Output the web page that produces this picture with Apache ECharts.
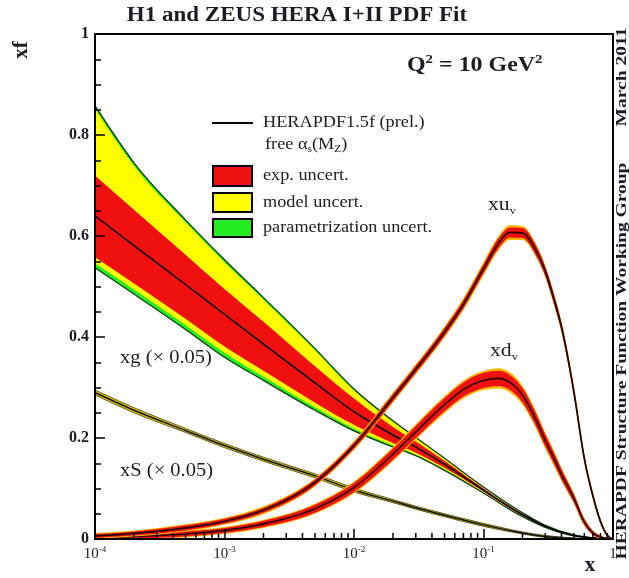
<!DOCTYPE html>
<html>
<head>
<meta charset="utf-8">
<title>H1 and ZEUS HERA I+II PDF Fit</title>
<script src="https://cdn.jsdelivr.net/npm/echarts@6/dist/echarts.min.js"></script>
<style>
  html, body { margin: 0; padding: 0; background: #fff; }
  #chart { width: 629px; height: 578px; }
</style>
</head>
<body>
<div id="chart"></div>
<script>
// ---- PDF values at Q^2 = 10 GeV^2 ----
// x grid for gluon and sea
const gluonX = [1e-4, 2e-4, 5e-4, 1e-3, 2e-3, 5e-3, 0.01, 0.02, 0.03, 0.05, 0.1, 0.2, 0.3, 0.5, 0.7, 1.0];
// xg (x 0.05): central value and uncertainty envelopes
const gluonCentral = [0.640, 0.581, 0.504, 0.445, 0.386, 0.309, 0.252, 0.206, 0.182, 0.148, 0.097, 0.048, 0.025, 0.007, 0.002, 0];
const gluonExpLo   = [0.558, 0.506, 0.436, 0.381, 0.333, 0.270, 0.226, 0.190, 0.171, 0.141, 0.094, 0.046, 0.024, 0.0065, 0.002, 0];
const gluonExpHi   = [0.720, 0.652, 0.563, 0.495, 0.430, 0.342, 0.278, 0.222, 0.193, 0.155, 0.100, 0.050, 0.026, 0.0075, 0.002, 0];
const gluonModLo   = [0.546, 0.494, 0.424, 0.369, 0.322, 0.261, 0.219, 0.185, 0.167, 0.138, 0.092, 0.045, 0.023, 0.006, 0.002, 0];
const gluonModHi   = [0.852, 0.739, 0.627, 0.548, 0.474, 0.374, 0.294, 0.232, 0.200, 0.159, 0.102, 0.051, 0.027, 0.008, 0.002, 0];
const gluonParLo   = [0.537, 0.485, 0.415, 0.360, 0.314, 0.255, 0.214, 0.182, 0.165, 0.136, 0.091, 0.044, 0.023, 0.006, 0.002, 0];
const gluonParHi   = [0.858, 0.745, 0.632, 0.553, 0.478, 0.377, 0.297, 0.234, 0.201, 0.160, 0.103, 0.052, 0.027, 0.008, 0.002, 0];
// xS (x 0.05)
const seaCentral = [0.290, 0.255, 0.215, 0.185, 0.158, 0.125, 0.097, 0.075, 0.062, 0.047, 0.028, 0.012, 0.005, 0.001, 0, 0];
const seaErr     = [0.005, 0.005, 0.004, 0.004, 0.004, 0.004, 0.004, 0.003, 0.003, 0.003, 0.003, 0.002, 0.002, 0.001, 0, 0];

// x grid for valence distributions
const valX = [1e-4, 2e-4, 5e-4, 1e-3, 2e-3, 5e-3, 0.01, 0.02, 0.03, 0.05, 0.07, 0.1, 0.13, 0.16, 0.2, 0.25, 0.3, 0.35, 0.4, 0.5, 0.6, 0.7, 0.8, 0.9, 1.0];
// xu_v
const uvCentral = [0.006, 0.011, 0.022, 0.035, 0.057, 0.112, 0.185, 0.280, 0.336, 0.410, 0.465, 0.535, 0.585, 0.607, 0.606, 0.575, 0.530, 0.475, 0.420, 0.290, 0.160, 0.085, 0.035, 0.008, 0];
const uvExpErr  = [0.004, 0.004, 0.005, 0.005, 0.005, 0.006, 0.006, 0.007, 0.007, 0.008, 0.008, 0.009, 0.010, 0.010, 0.010, 0.010, 0.009, 0.009, 0.008, 0.007, 0.006, 0.005, 0.004, 0.002, 0];
const uvTotErr  = [0.006, 0.006, 0.007, 0.007, 0.008, 0.008, 0.009, 0.010, 0.010, 0.011, 0.012, 0.013, 0.014, 0.015, 0.014, 0.013, 0.012, 0.012, 0.011, 0.010, 0.008, 0.006, 0.005, 0.003, 0];
// xd_v
const dvCentral = [0.003, 0.005, 0.010, 0.017, 0.030, 0.060, 0.102, 0.168, 0.212, 0.266, 0.296, 0.314, 0.318, 0.310, 0.285, 0.240, 0.195, 0.160, 0.128, 0.080, 0.034, 0.012, 0.004, 0.001, 0];
const dvExpErr  = [0.004, 0.004, 0.005, 0.005, 0.006, 0.008, 0.009, 0.011, 0.012, 0.013, 0.014, 0.015, 0.015, 0.015, 0.014, 0.013, 0.012, 0.011, 0.010, 0.008, 0.006, 0.004, 0.002, 0.001, 0];
const dvTotErr  = [0.006, 0.006, 0.007, 0.007, 0.008, 0.010, 0.012, 0.014, 0.015, 0.017, 0.018, 0.019, 0.020, 0.020, 0.019, 0.017, 0.016, 0.015, 0.013, 0.010, 0.008, 0.005, 0.003, 0.001, 0];

// axis ticks
const xMinorTicks = [2e-4, 3e-4, 4e-4, 5e-4, 6e-4, 7e-4, 8e-4, 9e-4,
                     2e-3, 3e-3, 4e-3, 5e-3, 6e-3, 7e-3, 8e-3, 9e-3,
                     0.02, 0.03, 0.04, 0.05, 0.06, 0.07, 0.08, 0.09,
                     0.2, 0.3, 0.4, 0.5, 0.6, 0.7, 0.8, 0.9];
const yTickLabels = { 0: '0', 0.2: '0.2', 0.4: '0.4', 0.6: '0.6', 0.8: '0.8', 1: '1' };

// ---- styling ----
const SERIF = '"Liberation Serif", "DejaVu Serif", serif';
const INK = '#1c1c24';
const RED = '#f01010', YELLOW = '#ffff00', GREEN = '#22ee22', AMBER = '#f6b800';
const WIDE = 1.14; // horizontal stretch of the annotation lettering

// ---- smooth monotone path through pixel points (x increasing) ----
function tangents(p) {
  const n = p.length, m = new Array(n).fill(0);
  if (n < 2) return m;
  const h = [], s = [];
  for (let i = 0; i < n - 1; i++) {
    h[i] = p[i + 1][0] - p[i][0];
    s[i] = h[i] !== 0 ? (p[i + 1][1] - p[i][1]) / h[i] : 0;
  }
  for (let i = 1; i < n - 1; i++) {
    const q = (s[i - 1] * h[i] + s[i] * h[i - 1]) / (h[i - 1] + h[i]);
    m[i] = (Math.sign(s[i - 1]) + Math.sign(s[i])) *
           Math.min(Math.abs(s[i - 1]), Math.abs(s[i]), 0.5 * Math.abs(q)) || 0;
  }
  m[0] = n > 2 ? (3 * s[0] - m[1]) / 2 : s[0];
  m[n - 1] = n > 2 ? (3 * s[n - 2] - m[n - 2]) / 2 : s[n - 2];
  if (Math.sign(m[0]) !== Math.sign(s[0])) m[0] = 0;
  if (Math.sign(m[n - 1]) !== Math.sign(s[n - 2])) m[n - 1] = 0;
  return m;
}
function segments(p) {
  const m = tangents(p), seg = [];
  for (let i = 0; i < p.length - 1; i++) {
    const h = (p[i + 1][0] - p[i][0]) / 3;
    seg.push([[p[i][0] + h, p[i][1] + m[i] * h], [p[i + 1][0] - h, p[i + 1][1] - m[i + 1] * h], p[i + 1]]);
  }
  return seg;
}
const f = v => v.toFixed(2);
function linePath(p) {
  let d = 'M' + f(p[0][0]) + ' ' + f(p[0][1]);
  segments(p).forEach(s => { d += 'C' + s.map(q => f(q[0]) + ' ' + f(q[1])).join(' '); });
  return d;
}
function bandPath(up, dn) {
  let d = linePath(up);
  const n = dn.length, seg = segments(dn);
  d += 'L' + f(dn[n - 1][0]) + ' ' + f(dn[n - 1][1]);
  for (let i = seg.length - 1; i >= 0; i--) {
    const s = seg[i], start = i === 0 ? dn[0] : seg[i - 1][2];
    d += 'C' + f(s[1][0]) + ' ' + f(s[1][1]) + ' ' + f(s[0][0]) + ' ' + f(s[0][1]) + ' ' + f(start[0]) + ' ' + f(start[1]);
  }
  return d + 'Z';
}

// filled band between lo and hi, drawn as one shape through the axis scales
function band(id, xs, lo, hi, color, z) {
  return {
    type: 'custom', id: id, silent: true, clip: true, z: z,
    data: xs.map((x, i) => [x, lo[i], hi[i]]),
    encode: { x: 0, y: [1, 2] },
    renderItem: function (params, api) {
      if (params.dataIndexInside !== 0) return null;
      const up = [], dn = [];
      for (let i = 0; i < params.dataInsideLength; i++) {
        up.push(api.coord([api.value(0, i), api.value(2, i)]));
        dn.push(api.coord([api.value(0, i), api.value(1, i)]));
      }
      return { type: 'path', shape: { pathData: bandPath(up, dn) }, style: { fill: color, stroke: null } };
    }
  };
}
// a single curve
function curve(id, xs, ys, color, width, z) {
  return {
    type: 'custom', id: id, silent: true, clip: true, z: z,
    data: xs.map((x, i) => [x, ys[i]]),
    encode: { x: 0, y: 1 },
    renderItem: function (params, api) {
      if (params.dataIndexInside !== 0) return null;
      const p = [];
      for (let i = 0; i < params.dataInsideLength; i++) p.push(api.coord([api.value(0, i), api.value(1, i)]));
      return { type: 'path', shape: { pathData: linePath(p) },
               style: { fill: null, stroke: color, lineWidth: width, lineJoin: 'round' } };
    }
  };
}
const minus = (c, e) => c.map((v, i) => Math.max(0, v - e[i]));
const plus = (c, e) => c.map((v, i) => v + e[i]);

const series = [
  // gluon
  band('g-par', gluonX, gluonParLo, gluonParHi, GREEN, 2),
  band('g-mod', gluonX, gluonModLo, gluonModHi, YELLOW, 2),
  band('g-exp', gluonX, gluonExpLo, gluonExpHi, RED, 2),
  curve('g-edge-lo', gluonX, gluonParLo, '#0d3d0d', 1.3, 3),
  curve('g-edge-hi', gluonX, gluonParHi, '#0d3d0d', 1.3, 3),
  curve('g-central', gluonX, gluonCentral, '#000', 1.5, 3),
  // sea
  band('s-tot', gluonX, minus(seaCentral, seaErr), plus(seaCentral, seaErr), '#e8d000', 4),
  curve('s-edge-lo', gluonX, minus(seaCentral, seaErr), '#3b3b00', 0.8, 4),
  curve('s-edge-hi', gluonX, plus(seaCentral, seaErr), '#3b3b00', 0.8, 4),
  curve('s-central', gluonX, seaCentral, '#111', 1.5, 4),
  // d valence
  band('dv-tot', valX, minus(dvCentral, dvTotErr), plus(dvCentral, dvTotErr), AMBER, 5),
  band('dv-exp', valX, minus(dvCentral, dvExpErr), plus(dvCentral, dvExpErr), RED, 5),
  curve('dv-central', valX, dvCentral, '#2a0500', 1.6, 5),
  // u valence
  band('uv-tot', valX, minus(uvCentral, uvTotErr), plus(uvCentral, uvTotErr), AMBER, 6),
  band('uv-exp', valX, minus(uvCentral, uvExpErr), plus(uvCentral, uvExpErr), RED, 6),
  curve('uv-central', valX, uvCentral, '#2a0500', 1.8, 6),
  // minor ticks of the logarithmic x axis
  {
    type: 'custom', id: 'x-minor-ticks', silent: true, clip: false, z: 20,
    data: xMinorTicks.map(v => [v, 0]),
    encode: { x: 0, y: 1 },
    renderItem: function (params, api) {
      const p = api.coord([api.value(0), 0]);
      return { type: 'line', shape: { x1: p[0], y1: p[1], x2: p[0], y2: p[1] - 6 },
               style: { stroke: '#000', lineWidth: 1.5 } };
    }
  }
];

const txt = (text, x, y, size, opts) => Object.assign({
  type: 'text', x: x, y: y, z: 100, silent: true, scaleX: WIDE,
  style: Object.assign({ text: text, fill: INK, fontFamily: SERIF, fontSize: size,
                         verticalAlign: 'middle' }, (opts && opts.style) || {})
}, opts && opts.el);

const subRich = (size, weight) => ({
  sub: { fontSize: Math.round(size * 0.6), fontFamily: SERIF, fontWeight: weight, verticalAlign: 'bottom', lineHeight: size * 1.2, fill: INK },
  sup: { fontSize: Math.round(size * 0.6), fontFamily: SERIF, fontWeight: weight, verticalAlign: 'top', lineHeight: size * 1.2, fill: INK },
  b: { fontSize: size, fontFamily: SERIF, fontWeight: weight, lineHeight: size * 1.2, fill: INK }
});

const graphics = [
  // title and axis names
  txt('H1 and ZEUS HERA I+II PDF Fit', 297, 16, 20, { style: { fontWeight: 'bold', align: 'center' }, el: { scaleX: 1.15 } }),
  txt('xf', 22, 50, 21, { style: { fontWeight: 'bold', align: 'center' }, el: { rotation: Math.PI / 2, scaleX: 1 } }),
  txt('x', 590, 566, 21, { style: { fontWeight: 'bold', align: 'center' }, el: { scaleX: 1 } }),
  txt('{b|Q}{sup|2}{b| = 10 GeV}{sup|2}', 407, 66, 21, { style: { rich: subRich(21, 'bold') } }),
  // side notes
  txt('March 2011', 622, 77, 15, { style: { fontWeight: 'bold', align: 'center' }, el: { rotation: Math.PI / 2, scaleX: 1.3 } }),
  txt('HERAPDF Structure Function Working Group', 622, 361, 15,
      { style: { fontWeight: 'bold', align: 'center' }, el: { rotation: Math.PI / 2, scaleX: 1.3 } }),
  // legend
  { type: 'line', z: 100, silent: true, shape: { x1: 212, y1: 123, x2: 253, y2: 123 }, style: { stroke: '#000', lineWidth: 2 } },
  txt('HERAPDF1.5f (prel.)', 263, 123, 16),
  txt('{b|free α}{sub|s}{b|(M}{sub|Z}{b|)}', 265, 145, 16, { style: { rich: subRich(16, 'normal') } }),
  { type: 'rect', z: 100, silent: true, shape: { x: 213, y: 166, width: 39, height: 20 }, style: { fill: RED, stroke: '#000', lineWidth: 2 } },
  txt('exp. uncert.', 263, 176, 16),
  { type: 'rect', z: 100, silent: true, shape: { x: 213, y: 193, width: 39, height: 19 }, style: { fill: YELLOW, stroke: '#000', lineWidth: 2 } },
  txt('model uncert.', 263, 203, 16),
  { type: 'rect', z: 100, silent: true, shape: { x: 213, y: 219, width: 39, height: 18 }, style: { fill: GREEN, stroke: '#000', lineWidth: 2 } },
  txt('parametrization uncert.', 263, 228, 16),
  // curve names
  txt('{b|xu}{sub|v}', 488, 205, 19, { style: { rich: subRich(19, 'normal') } }),
  txt('{b|xd}{sub|v}', 490, 351, 19, { style: { rich: subRich(19, 'normal') } }),
  txt('xg (× 0.05)', 120, 358, 18),
  txt('xS (× 0.05)', 120, 471, 18)
];

const option = {
  animation: false,
  backgroundColor: '#fff',
  grid: { left: 95, right: 16, top: 34, bottom: 39, show: true, borderColor: '#000', borderWidth: 2, backgroundColor: 'transparent', z: 30 },
  xAxis: {
    type: 'log', logBase: 10, min: 1e-4, max: 1, z: 30,
    axisLine: { show: true, lineStyle: { color: '#000', width: 2 } },
    axisTick: { show: true, inside: true, length: 10, lineStyle: { color: '#000', width: 1.5 } },
    minorTick: { show: false },
    splitLine: { show: false },
    axisLabel: {
      margin: 6, color: INK, fontFamily: SERIF, fontSize: 15,
      formatter: function (v) {
        if (v >= 0.999) return '{b|1}';
        return '{b|10}{sup|' + Math.round(Math.log10(v)) + '}';
      },
      rich: {
        b: { fontSize: 15, fontFamily: SERIF, lineHeight: 18, color: INK },
        sup: { fontSize: 9, fontFamily: SERIF, verticalAlign: 'top', lineHeight: 18, color: INK }
      }
    }
  },
  yAxis: {
    type: 'value', min: 0, max: 1, interval: 0.2, z: 30,
    axisLine: { show: true, lineStyle: { color: '#000', width: 2 } },
    axisTick: { show: true, inside: true, length: 10, lineStyle: { color: '#000', width: 1.5 } },
    minorTick: { show: true, splitNumber: 4, length: 6, lineStyle: { color: '#000', width: 1.5 } },
    splitLine: { show: false },
    axisLabel: {
      margin: 6, color: INK, fontFamily: SERIF, fontSize: 16, fontWeight: 'bold',
      formatter: function (v) {
        const k = Math.round(v * 10) / 10;
        return yTickLabels[k] !== undefined ? yTickLabels[k] : '';
      }
    }
  },
  series: series,
  graphic: graphics
};

const chart = echarts.init(document.getElementById('chart'), null, { renderer: 'canvas' });
chart.setOption(option);
</script>
</body>
</html>
